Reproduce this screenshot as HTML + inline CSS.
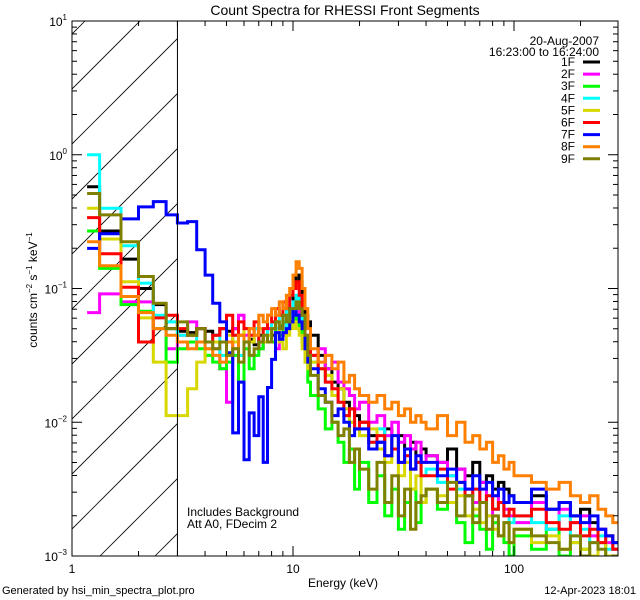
<!DOCTYPE html>
<html><head><meta charset="utf-8"><style>
html,body{margin:0;padding:0;background:#fff;}
svg{display:block;font-family:"Liberation Sans",sans-serif;}
</style></head><body>
<svg id="chart" width="640" height="600" viewBox="0 0 640 600" xmlns="http://www.w3.org/2000/svg">
<rect x="0" y="0" width="640" height="600" fill="#fff"/>
<text x="345" y="15" font-size="14" text-anchor="middle">Count Spectra for RHESSI Front Segments</text>
<g id="hatch"></g>
<g id="series"></g>
<g id="axes"></g>
<text x="599" y="45" font-size="12" text-anchor="end">20-Aug-2007</text>
<text x="599" y="56" font-size="12" text-anchor="end">16:23:00 to 16:24:00</text>
<g id="legend"></g>
<text x="187" y="516" font-size="12">Includes Background</text>
<text x="187" y="528" font-size="12">Att A0, FDecim 2</text>
<text x="343" y="587" font-size="12" text-anchor="middle">Energy (keV)</text>
<text transform="translate(37,290) rotate(-90)" font-size="12" text-anchor="middle">counts cm<tspan font-size="8" dy="-5">−2</tspan><tspan dy="5"> s</tspan><tspan font-size="8" dy="-5">−1</tspan><tspan dy="5"> keV</tspan><tspan font-size="8" dy="-5">−1</tspan></text>
<text x="2" y="594" font-size="11">Generated by hsi_min_spectra_plot.pro</text>
<text x="636" y="594" font-size="11" text-anchor="end">12-Apr-2023 18:01</text>
</svg>
<script>
// bin segments: [start, end, width]
const binSegments = [[1.17,1.3333,0.1633],[1.3333,12.0001,1/3],[12,20,1],[20,40,2],[40,100,5],[100,300,20]];
const seriesNames = ["1F","2F","3F","4F","5F","6F","7F","8F","9F"];
const seriesColors = ["#000000","#ff00ff","#00ff00","#00ffff","#d8d800","#ff0000","#0000ff","#ff8000","#808000"];
// log10(counts) per bin
const s1F = [-0.24,-0.57,-0.78,-1.0,-1.12,-1.3, -1.32,-1.33,-1.30,-1.32,-1.35,-1.3,-1.32,-1.3,-1.35,-1.4,-1.38,-1.42,-1.35,-1.4,-1.3,-1.35,-1.25,-1.28,-1.3,-1.2,-1.15, -1.0,-0.9,-0.95,-1.1,-1.2,-1.25, -1.35,-1.5,-1.6,-1.7,-1.75,-1.85,-1.9,-1.95, -2.0,-2.1,-2.15,-2.05,-2.2,-2.1,-2.2,-2.15,-2.3,-2.2, -2.25,-2.3,-2.2,-2.35,-2.4,-2.3,-2.45,-2.4,-2.5,-2.45,-2.5,-2.55, -2.6,-2.55,-2.65,-2.6,-2.7,-2.65,-2.75,-2.8,-2.85,-2.9];
const s2F = [-1.18,-1.04,-1.10,-1.10,-1.3,-1.45, -1.35,-1.25,-1.3,-1.4,-1.45,-1.6,-1.85,-1.3,-1.2,-1.35,-1.4,-1.3,-1.45,-1.35,-1.3,-1.4,-1.45,-1.3,-1.35,-1.25,-1.2, -1.1,-1.15,-1.2,-1.3,-1.4,-1.45, -1.5,-1.45,-1.6,-1.55,-1.7,-1.75,-1.8,-1.9, -1.85,-2.0,-1.95,-2.1,-2.0,-2.15,-2.1,-2.2,-2.15,-2.3, -2.25,-2.3,-2.4,-2.35,-2.5,-2.6,-2.45,-2.7,-2.55,-2.6,-2.65,-2.7, -2.75,-2.6,-2.8,-2.65,-2.75,-2.7,-2.85,-2.8,-2.9,-2.95];
const s3F = [-0.57,-0.85,-1.12,-1.17,-1.3,-1.55, -1.45,-1.4,-1.45,-1.5,-1.55,-1.6,-1.55,-1.5,-1.7,-1.45,-1.6,-1.5,-1.45,-1.4,-1.35,-1.4,-1.3,-1.35,-1.25,-1.3,-1.2, -1.25,-1.2,-1.3,-1.4,-1.55,-1.7, -1.8,-1.9,-2.05,-2.0,-2.15,-2.3,-2.2,-2.5, -2.3,-2.6,-2.4,-2.7,-2.5,-2.8,-2.6,-2.5,-2.75,-2.6, -2.5,-2.65,-2.6,-2.75,-2.9,-2.7,-2.8,-2.95,-2.75,-2.85,-2.9,-3.0, -2.85,-2.95,-2.8,-3.0,-2.9,-2.95,-3.0,-2.9,-3.05,-3.0];
const s4F = [0.0,-0.40,-0.68,-0.96,-1.2,-1.25, -1.35,-1.35,-1.4,-1.45,-1.35,-1.5,-1.4,-1.35,-1.5,-1.4,-1.35,-1.3,-1.4,-1.3,-1.35,-1.25,-1.3,-1.2,-1.3,-1.15,-1.2, -1.1,-1.05,-1.15,-1.25,-1.4,-1.5, -1.55,-1.6,-1.7,-1.8,-1.85,-1.95,-2.0,-2.05, -2.1,-2.15,-2.05,-2.25,-2.2,-2.3,-2.25,-2.35,-2.3,-2.4, -2.35,-2.45,-2.4,-2.5,-2.55,-2.5,-2.6,-2.55,-2.65,-2.6,-2.7,-2.75, -2.7,-2.75,-2.8,-2.7,-2.85,-2.8,-2.9,-2.85,-2.95,-2.9];
const s5F = [-0.40,-0.63,-0.95,-1.22,-1.55,-1.95, -1.95,-1.75,-1.55,-1.45,-1.4,-1.4,-1.35,-1.4,-1.35,-1.3,-1.4,-1.35,-1.3,-1.4,-1.35,-1.3,-1.25,-1.4,-1.45,-1.35,-1.3, -1.25,-1.3,-1.35,-1.45,-1.55,-1.6, -1.55,-1.6,-1.65,-1.8,-1.75,-1.9,-2.0,-2.05, -2.1,-2.05,-2.2,-2.3,-2.2,-2.4,-2.3,-2.5,-2.4,-2.6, -2.5,-2.55,-2.6,-2.55,-2.7,-2.65,-2.75,-2.7,-2.8,-2.85,-2.75,-2.9, -2.8,-2.9,-2.85,-2.95,-2.9,-2.95,-3.0,-2.9,-3.0,-3.05];
const s6F = [-0.47,-0.74,-0.99,-1.40,-1.22,-1.20, -1.3,-1.35,-1.3,-1.4,-1.35,-1.3,-1.2,-1.35,-1.25,-1.3,-1.35,-1.25,-1.4,-1.3,-1.2,-1.25,-1.15,-1.2,-1.1,-1.15,-1.05, -1.0,-0.95,-1.05,-1.2,-1.35,-1.45, -1.5,-1.6,-1.7,-1.75,-1.85,-1.95,-1.9,-2.05, -2.0,-2.15,-2.1,-2.25,-2.2,-2.3,-2.25,-2.35,-2.3,-2.4, -2.4,-2.35,-2.5,-2.45,-2.55,-2.5,-2.6,-2.55,-2.65,-2.6,-2.7,-2.65, -2.7,-2.65,-2.75,-2.8,-2.75,-2.85,-2.8,-2.9,-2.85,-2.95];
const s7F = [-0.70,-0.59,-0.48,-0.39,-0.35,-0.45, -0.51,-0.50,-0.71,-0.90,-1.11,-1.25,-1.48,-2.08,-1.70,-2.28,-1.93,-2.1,-1.81,-2.3,-1.74,-1.53,-1.33,-1.38,-1.33,-1.3,-1.25, -1.15,-1.2,-1.25,-1.3,-1.45,-1.55, -1.6,-1.75,-1.85,-1.95,-1.9,-2.0,-2.1,-2.05, -2.05,-2.2,-2.15,-2.25,-2.1,-2.3,-2.2,-2.35,-2.25,-2.3, -2.3,-2.4,-2.35,-2.45,-2.5,-2.4,-2.5,-2.45,-2.55,-2.5,-2.6,-2.55, -2.6,-2.5,-2.65,-2.6,-2.7,-2.75,-2.7,-2.8,-2.85,-2.9];
const s8F = [-0.65,-0.83,-1.06,-1.18,-1.3,-1.35, -1.4,-1.45,-1.4,-1.45,-1.5,-1.55,-1.4,-1.45,-1.35,-1.4,-1.3,-1.35,-1.2,-1.25,-1.2,-1.15,-1.2,-1.1,-1.15,-1.05,-1.0, -0.9,-0.8,-0.85,-1.0,-1.15,-1.3, -1.45,-1.55,-1.5,-1.6,-1.55,-1.7,-1.65,-1.75, -1.8,-1.85,-1.8,-1.9,-1.85,-1.95,-1.9,-2.0,-1.95,-2.0, -2.05,-1.95,-2.1,-2.0,-2.15,-2.1,-2.2,-2.15,-2.3,-2.25,-2.35,-2.3, -2.4,-2.45,-2.5,-2.45,-2.55,-2.6,-2.55,-2.65,-2.7,-2.75];
const s9F = [-0.29,-0.45,-0.65,-0.91,-1.11,-1.30, -1.25,-1.35,-1.3,-1.4,-1.45,-1.4,-1.5,-1.45,-1.55,-1.4,-1.5,-1.45,-1.4,-1.35,-1.4,-1.3,-1.25,-1.3,-1.2,-1.25,-1.15, -1.15,-1.1,-1.15,-1.2,-1.35,-1.5, -1.65,-1.8,-1.85,-2.0,-2.1,-2.05,-2.3,-2.2, -2.35,-2.5,-2.3,-2.6,-2.4,-2.7,-2.5,-2.8,-2.6,-2.55, -2.5,-2.6,-2.45,-2.7,-2.55,-2.75,-2.6,-2.8,-2.7,-2.85,-2.75,-2.9, -2.8,-2.85,-2.9,-2.95,-2.85,-3.0,-2.9,-2.95,-3.05,-3.0];
const seriesData = [s1F,s2F,s3F,s4F,s5F,s6F,s7F,s8F,s9F];
const xTickLabels = ["1","10","100"];
const yTickExps = ["1","0","−1","−2","−3"];

const NS="http://www.w3.org/2000/svg";
const L=72,R=618,T=21,B=556;
const xDec=221, yDec=(B-T)/4;
function xs(e){return L+Math.log10(e)*xDec;}
function ys(lg){return T+(1-lg)*yDec;}
function mk(tag,attrs,parent){const el=document.createElementNS(NS,tag);for(const k in attrs)el.setAttribute(k,attrs[k]);parent.appendChild(el);return el;}
const svg=document.getElementById('chart');
const defs=mk('defs',{},svg);
const cp=mk('clipPath',{id:'plotclip'},defs);
mk('rect',{x:L,y:T,width:R-L,height:B-T},cp);
const hcp=mk('clipPath',{id:'hatchclip'},defs);
mk('rect',{x:L,y:T,width:xs(3)-L,height:B-T},hcp);

// edges
const edges=[];
binSegments.forEach((s,i)=>{let e=s[0];if(i===0)edges.push(e);while(e+s[2]<=s[1]+1e-6){e+=s[2];edges.push(e);} });

// hatch
const hg=document.getElementById('hatch');
hg.setAttribute('clip-path','url(#hatchclip)');
for(let k=-12;k<4;k++){
  const x0=100+k*55;
  const ln=mk('line',{x1:x0,y1:B,x2:x0+(B-T),y2:T,stroke:'#000','stroke-width':0.8},hg);
  
  
}
const vl=mk('line',{x1:xs(3),y1:T,x2:xs(3),y2:B,stroke:'#000','stroke-width':1},hg.parentNode);



// series
const sg=document.getElementById('series');
sg.setAttribute('clip-path','url(#plotclip)');
seriesData.forEach((vals,si)=>{
  const n=Math.min(vals.length,edges.length-1);
  let d='';
  for(let i=0;i<n;i++){
    const y=ys(vals[i]).toFixed(1);
    const x1=xs(edges[i]).toFixed(1),x2=xs(edges[i+1]).toFixed(1);
    d+=(i===0?'M':'L')+x1+','+y+'L'+x2+','+y;
  }
  const p=mk('path',{d:d,fill:'none',stroke:seriesColors[si],'stroke-width':3,'stroke-linejoin':'miter'},sg);
  
  
});

// axes
const ag=document.getElementById('axes');
const frame=mk('rect',{x:L,y:T,width:R-L,height:B-T,fill:'none',stroke:'#000','stroke-width':1},ag);


for(let dec=0;dec<3;dec++){
  for(let m=1;m<10;m++){
    const e=Math.pow(10,dec)*m; const x=xs(e); if(x>R)break;
    const len=m===1?10:5;
    mk('line',{x1:x,y1:B,x2:x,y2:B-len,stroke:'#000'},ag);
    mk('line',{x1:x,y1:T,x2:x,y2:T+len,stroke:'#000'},ag);
  }
}
xTickLabels.forEach((t,i)=>{
  const tx=mk('text',{x:xs(Math.pow(10,i)),y:573,'font-size':12,'text-anchor':'middle'},ag);
  tx.textContent=t;
  
  
});
for(let dec=-3;dec<1;dec++){
  for(let m=1;m<10;m++){
    const y=ys(dec+Math.log10(m)); const len=m===1?10:5;
    mk('line',{x1:L,y1:y,x2:L+len,y2:y,stroke:'#000'},ag);
    mk('line',{x1:R,y1:y,x2:R-len,y2:y,stroke:'#000'},ag);
  }
}
yTickExps.forEach((ex,i)=>{
  const y=ys(1-i);
  const tx=mk('text',{x:60,y:y+5,'font-size':12,'text-anchor':'end'},ag);
  
  
  tx.appendChild(document.createTextNode('10'));
  const sp=mk('tspan',{'font-size':8,dy:-6},tx); sp.textContent=ex;
  tx.setAttribute('x',67);
});

// legend
const lg=document.getElementById('legend');
seriesNames.forEach((nm,i)=>{
  const y=62+i*12.1;
  const t=mk('text',{x:575,y:y+4,'font-size':12,'text-anchor':'end'},lg);
  t.textContent=nm;
  
  
  const l=mk('line',{x1:583,y1:y,x2:600,y2:y,stroke:seriesColors[i],'stroke-width':3},lg);
  
  
});
</script>
</body></html>
